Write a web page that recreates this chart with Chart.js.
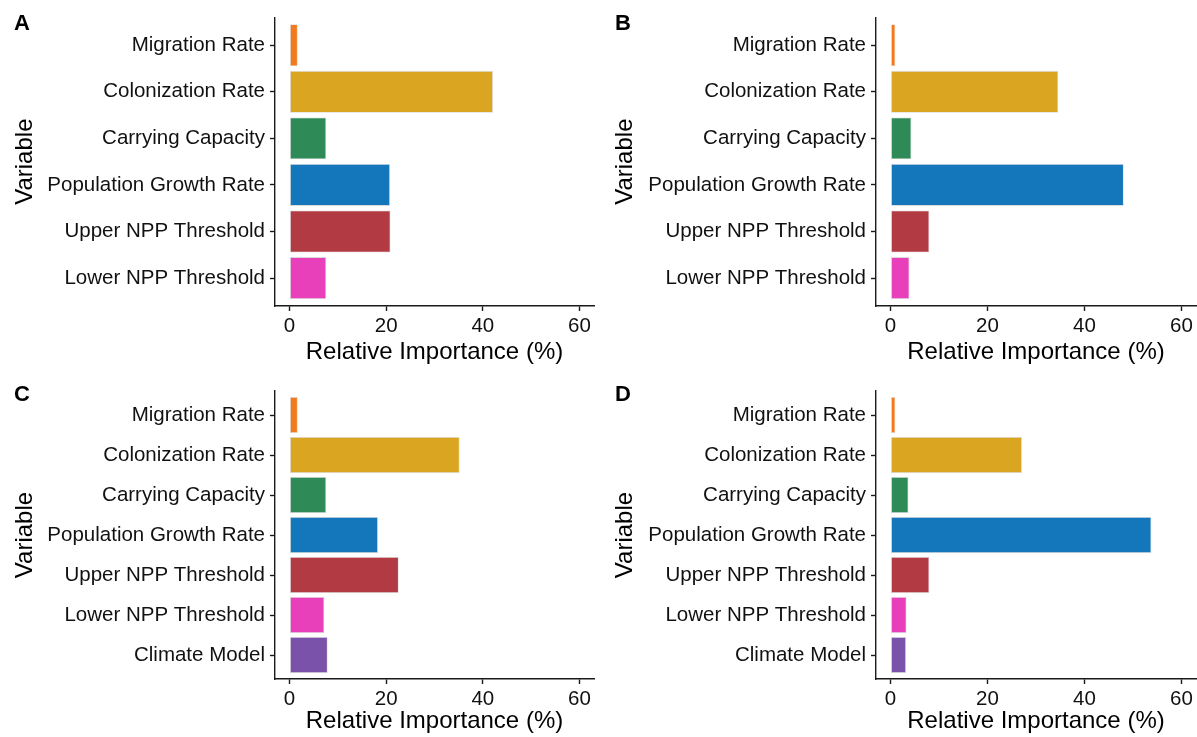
<!DOCTYPE html>
<html>
<head>
<meta charset="utf-8">
<script src="https://cdn.jsdelivr.net/npm/chart.js@4"></script>
<style>
  html, body { margin: 0; padding: 0; background: #ffffff; }
  #wrap { position: relative; width: 1197px; height: 737px; background: #ffffff; overflow: hidden; }
  .panel { position: absolute; }
  .panel canvas { display: block; }
</style>
</head>
<body>
<div id="wrap">
  <div class="panel" style="left:0px;top:0px;"><canvas id="cA" width="598" height="368"></canvas></div>
  <div class="panel" style="left:600px;top:0px;"><canvas id="cB" width="597" height="368"></canvas></div>
  <div class="panel" style="left:0px;top:368px;"><canvas id="cC" width="598" height="369"></canvas></div>
  <div class="panel" style="left:600px;top:368px;"><canvas id="cD" width="597" height="369"></canvas></div>
</div>
<script>
// Predictor variables (top to bottom)
const variablesSix = ['Migration Rate', 'Colonization Rate', 'Carrying Capacity',
  'Population Growth Rate', 'Upper NPP Threshold', 'Lower NPP Threshold'];
const variablesSeven = variablesSix.concat(['Climate Model']);

// Relative importance (%) per variable
const importanceA = [1.7, 42.1, 7.6, 20.8, 20.9, 7.6];
const importanceB = [1.0, 34.6, 4.3, 48.1, 8.0, 3.9];
const importanceC = [1.7, 35.2, 7.6, 18.3, 22.6, 7.2, 7.9];
const importanceD = [1.0, 27.1, 3.7, 53.8, 8.0, 3.3, 3.2];

// X axis tick values
const xTickValues = [0, 20, 40, 60];

// Fill colour per variable
const variableColors = ['#F27A1C', '#DAA520', '#2E8B57', '#1476BB', '#B23A43', '#E83FBA', '#7B52A9'];

const FONT = "'Liberation Sans', Arial, Helvetica, sans-serif";
const AXIS_COLOR = '#1a1a1a';
const TEXT_COLOR = '#111111';

const panelLetter = {
  id: 'panelLetter',
  afterDraw(chart, args, opts) {
    const ctx = chart.ctx;
    ctx.save();
    ctx.font = 'bold 22px ' + FONT;
    ctx.fillStyle = '#000000';
    ctx.textAlign = 'center';
    ctx.textBaseline = 'middle';
    ctx.fillText(opts.text, opts.x, opts.y);
    ctx.restore();
  }
};

function buildPanel(canvasId, letter, labels, values, box) {
  const n = labels.length;
  const points = values.map((v, i) => ({ x: v, y: i }));
  return new Chart(document.getElementById(canvasId), {
    type: 'bar',
    data: {
      datasets: [{
        data: points,
        backgroundColor: variableColors.slice(0, n),
        borderColor: 'rgba(185,185,185,0.55)',
        borderWidth: 0.8,
        borderSkipped: false,
        barPercentage: 0.9,
        categoryPercentage: 1.0
      }]
    },
    plugins: [panelLetter],
    options: {
      indexAxis: 'y',
      responsive: false,
      animation: false,
      devicePixelRatio: 1,
      layout: { padding: { top: box.top, right: box.right, left: 0, bottom: 0 } },
      plugins: {
        legend: { display: false },
        tooltip: { enabled: false },
        panelLetter: { text: letter, x: box.letterX, y: box.letterY }
      },
      scales: {
        x: {
          type: 'linear',
          min: -3,
          max: 63,
          offset: false,
          afterBuildTicks(scale) { scale.ticks = xTickValues.map(v => ({ value: v })); },
          afterFit(scale) { scale.height = box.xHeight; },
          grid: { offset: false, drawOnChartArea: false, drawTicks: true, tickLength: 5, tickColor: AXIS_COLOR, tickWidth: 1.4 },
          border: { display: true, color: AXIS_COLOR, width: 1.4 },
          ticks: { color: TEXT_COLOR, font: { family: FONT, size: 20.5 }, padding: 3, maxRotation: 0 },
          title: {
            display: true,
            text: 'Relative Importance (%)',
            color: '#000000',
            font: { family: FONT, size: 24 },
            padding: { top: 0, bottom: 1 }
          }
        },
        y: {
          type: 'linear',
          reverse: true,
          offset: false,
          min: -0.6,
          max: n - 0.4,
          afterBuildTicks(scale) { scale.ticks = labels.map((_, i) => ({ value: i })); },
          afterFit(scale) { scale.width = box.left; },
          grid: { offset: false, drawOnChartArea: false, drawTicks: true, tickLength: 5, tickColor: AXIS_COLOR, tickWidth: 1.4 },
          border: { display: true, color: AXIS_COLOR, width: 1.4 },
          ticks: {
            autoSkip: false,
            color: TEXT_COLOR,
            font: { family: FONT, size: 20.5 },
            padding: 5,
            callback: (v) => labels[v]
          },
          title: {
            display: true,
            text: 'Variable',
            color: '#000000',
            font: { family: FONT, size: 24 },
            padding: { top: 11, bottom: 0 }
          }
        }
      }
    }
  });
}

buildPanel('cA', 'A', variablesSix, importanceA,
  { left: 275, right: 4, top: 17, xHeight: 62, letterX: 22, letterY: 24 });
buildPanel('cB', 'B', variablesSix, importanceB,
  { left: 276, right: 1, top: 17, xHeight: 62, letterX: 23, letterY: 24 });
buildPanel('cC', 'C', variablesSeven, importanceC,
  { left: 275, right: 4, top: 23, xHeight: 58, letterX: 22, letterY: 27 });
buildPanel('cD', 'D', variablesSeven, importanceD,
  { left: 276, right: 1, top: 23, xHeight: 58, letterX: 23, letterY: 27 });
</script>
</body>
</html>
